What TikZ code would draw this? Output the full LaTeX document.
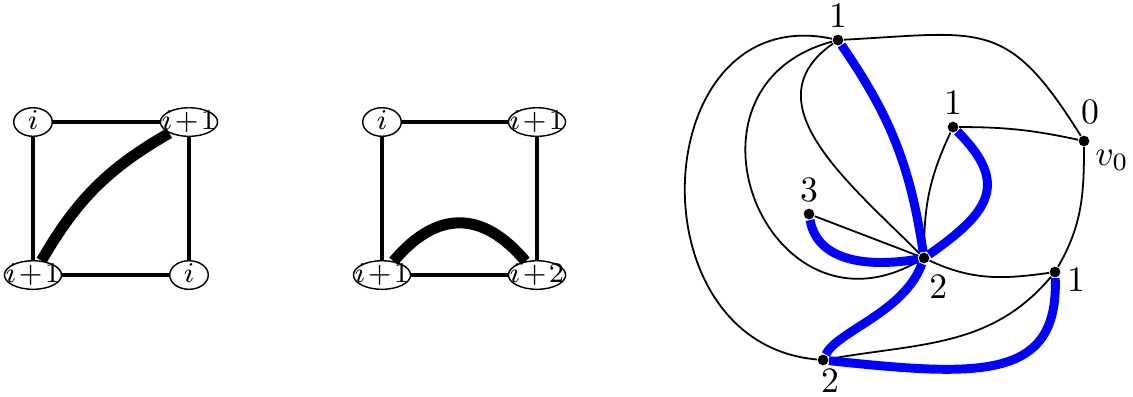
\documentclass[tikz,border=0pt]{standalone}
\usepackage{tikz}
\usetikzlibrary{shapes.geometric}
\pgfdeclarelayer{bg}
\pgfsetlayers{bg,main}
\newcommand{\vlab}[1]{\makebox[0pt]{$#1$}}
\begin{document}
\begin{tikzpicture}[x=0.28pt, y=-0.28pt,
    vx/.style={ellipse, draw, thin, inner sep=0pt, minimum width=10.8pt,
               minimum height=8pt, text height=4.6pt, text depth=0.6pt,
               font={\fontsize{7.6}{9}\selectfont\medmuskip=1.5mu}},
    wide/.style={minimum width=16pt},
    ed/.style={line width=0.95pt},
    fat/.style={line width=3.1pt},
    dot/.style={circle, fill, inner sep=0pt, minimum size=3pt},
    lbl/.style={inner sep=1.5pt},
    ln/.style={line width=0.5pt},
    bl/.style={blue, line width=2.5pt}
  ]
  \useasboundingbox (0,0) rectangle (1133,396);

  % first square
  \node[vx] (a1) at (33,122) {\vlab{i}};
  \node[vx, wide] (b1) at (189,122) {\vlab{i+1}};
  \node[vx, wide] (c1) at (33,275) {\vlab{i+1}};
  \node[vx] (d1) at (189,275) {\vlab{i}};
  \draw[ed] (a1) -- (b1);
  \draw[ed] (a1) -- (c1);
  \draw[ed] (c1) -- (d1);
  \draw[ed] (b1) -- (d1);
  \draw[fat] (c1) to[bend left=15] (b1);

  % second square
  \node[vx] (a2) at (382,122) {\vlab{i}};
  \node[vx, wide] (b2) at (537,122) {\vlab{i+1}};
  \node[vx, wide] (c2) at (382,275) {\vlab{i+1}};
  \node[vx, wide] (d2) at (537,275) {\vlab{i+2}};
  \draw[ed] (a2) -- (b2);
  \draw[ed] (a2) -- (c2);
  \draw[ed] (c2) -- (d2);
  \draw[ed] (b2) -- (d2);
  \draw[fat] (c2) to[out=50, in=130, looseness=1.3] (d2);

  % the graph
  \node[dot, label={[lbl]above:$1$}] (top) at (838,40) {};
  \node[dot, label={[lbl]above:$1$}] (mid) at (953,127) {};
  \node[dot, label={[lbl, label distance=1.5pt, xshift=1.7pt]above:$0$},
        label={[lbl]-30:$v_0$}] (vz) at (1084,141) {};
  \node[dot, label={[lbl]above:$3$}] (three) at (809,214) {};
  \node[dot, label={[lbl, xshift=4pt, yshift=-1.4pt]below:$2$}] (hub) at (924,258) {};
  \node[dot, label={[lbl, yshift=-2.2pt]right:$1$}] (rgt) at (1055,272) {};
  \node[dot, label={[lbl, xshift=2pt, yshift=0.8pt]below:$2$}] (bot) at (823,360) {};

  \begin{pgfonlayer}{bg}
    \draw[ln] (top) to[out=3, in=122, looseness=1.4] (vz);
    \draw[ln] (top) to[out=168, in=175, looseness=1.5] (bot);
    \draw[ln] (top) to[out=195, in=210, looseness=1.9] (hub);
    \draw[ln] (top) to[out=215, in=135, looseness=1.15] (hub);
    \draw[ln] (mid) to[bend left=6] (vz);
    \draw[ln] (mid) to[out=245, in=90] (hub);
    \draw[ln] (three) -- (hub);
    \draw[ln] (hub) to[out=-25, in=188] (rgt);
    \draw[ln] (rgt) to[out=60, in=270] (vz);
    \draw[ln] (bot) to[out=10, in=230] (rgt);

    \draw[bl] (top) to[bend left=13] (hub);
    \draw[bl] (mid) to[out=-45, in=35, looseness=1.5] (hub);
    \draw[bl] (three) to[out=-80, in=190] (hub);
    \draw[bl] (hub) to[out=250, in=64, in looseness=0.5] (bot);
    \draw[bl] (rgt) to[out=-88, in=-6, out looseness=1.1, in looseness=1.6] (bot);
  \end{pgfonlayer}
\end{tikzpicture}
\end{document}
